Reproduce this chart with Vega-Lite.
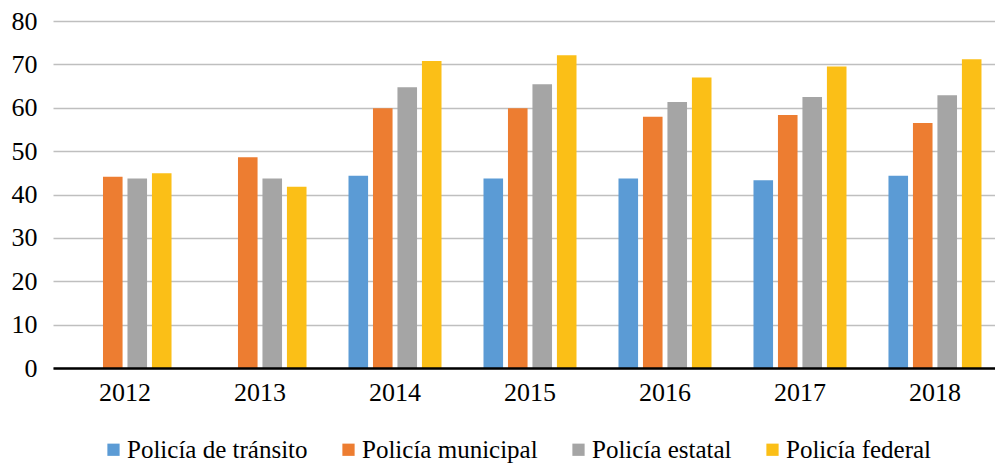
{
  "$schema": "https://vega.github.io/schema/vega-lite/v6.json",
  "autosize": {"type": "none"},
  "width": 954,
  "height": 347,
  "padding": {"left": 53, "top": 21, "right": 0, "bottom": 98},
  "background": "white",
  "config": {"font": "Liberation Serif", "view": {"stroke": null}},
  "data": {
    "values": [
      {"year": "2012", "cat": "Policía municipal", "value": 44.1},
      {"year": "2012", "cat": "Policía estatal", "value": 43.7},
      {"year": "2012", "cat": "Policía federal", "value": 44.9},
      {"year": "2013", "cat": "Policía municipal", "value": 48.6},
      {"year": "2013", "cat": "Policía estatal", "value": 43.7},
      {"year": "2013", "cat": "Policía federal", "value": 41.8},
      {"year": "2014", "cat": "Policía de tránsito", "value": 44.3},
      {"year": "2014", "cat": "Policía municipal", "value": 59.9},
      {"year": "2014", "cat": "Policía estatal", "value": 64.7},
      {"year": "2014", "cat": "Policía federal", "value": 70.8},
      {"year": "2015", "cat": "Policía de tránsito", "value": 43.7},
      {"year": "2015", "cat": "Policía municipal", "value": 59.9},
      {"year": "2015", "cat": "Policía estatal", "value": 65.4},
      {"year": "2015", "cat": "Policía federal", "value": 72.1},
      {"year": "2016", "cat": "Policía de tránsito", "value": 43.7},
      {"year": "2016", "cat": "Policía municipal", "value": 57.9},
      {"year": "2016", "cat": "Policía estatal", "value": 61.3},
      {"year": "2016", "cat": "Policía federal", "value": 67.0},
      {"year": "2017", "cat": "Policía de tránsito", "value": 43.3},
      {"year": "2017", "cat": "Policía municipal", "value": 58.3},
      {"year": "2017", "cat": "Policía estatal", "value": 62.5},
      {"year": "2017", "cat": "Policía federal", "value": 69.5},
      {"year": "2018", "cat": "Policía de tránsito", "value": 44.3},
      {"year": "2018", "cat": "Policía municipal", "value": 56.5},
      {"year": "2018", "cat": "Policía estatal", "value": 62.9},
      {"year": "2018", "cat": "Policía federal", "value": 71.2}
    ]
  },
  "mark": {"type": "bar"},
  "encoding": {
    "x": {
      "field": "year",
      "type": "nominal",
      "scale": {"paddingInner": 0.311, "paddingOuter": 0.189},
      "axis": {
        "title": null,
        "labelAngle": 0,
        "labelFont": "Liberation Serif",
        "labelFontSize": 26,
        "labelColor": "#000000",
        "domainColor": "#000000",
        "domainWidth": 2.5,
        "ticks": false,
        "labelPadding": 11,
        "zindex": 1
      }
    },
    "xOffset": {
      "field": "cat",
      "type": "nominal",
      "scale": {
        "domain": ["Policía de tránsito", "Policía municipal", "Policía estatal", "Policía federal"],
        "paddingInner": 0.2
      }
    },
    "y": {
      "field": "value",
      "type": "quantitative",
      "scale": {"domain": [0, 80]},
      "axis": {
        "title": null,
        "values": [0, 10, 20, 30, 40, 50, 60, 70, 80],
        "labelFont": "Liberation Serif",
        "labelFontSize": 26,
        "labelColor": "#000000",
        "domain": false,
        "ticks": false,
        "gridColor": "#BFBFBF",
        "gridWidth": 1.5,
        "labelPadding": 16
      }
    },
    "color": {
      "field": "cat",
      "type": "nominal",
      "scale": {
        "domain": ["Policía de tránsito", "Policía municipal", "Policía estatal", "Policía federal"],
        "range": ["#5B9BD5", "#ED7D31", "#A5A5A5", "#FBBF17"]
      },
      "legend": {
        "title": null,
        "orient": "none",
        "direction": "horizontal",
        "legendX": 48,
        "legendY": 416,
        "symbolType": "square",
        "symbolSize": 150,
        "symbolStrokeWidth": 0,
        "labelFont": "Liberation Serif",
        "labelFontSize": 25,
        "labelColor": "#000000",
        "labelOffset": 1,
        "columnPadding": 28,
        "labelLimit": 400
      }
    }
  }
}
